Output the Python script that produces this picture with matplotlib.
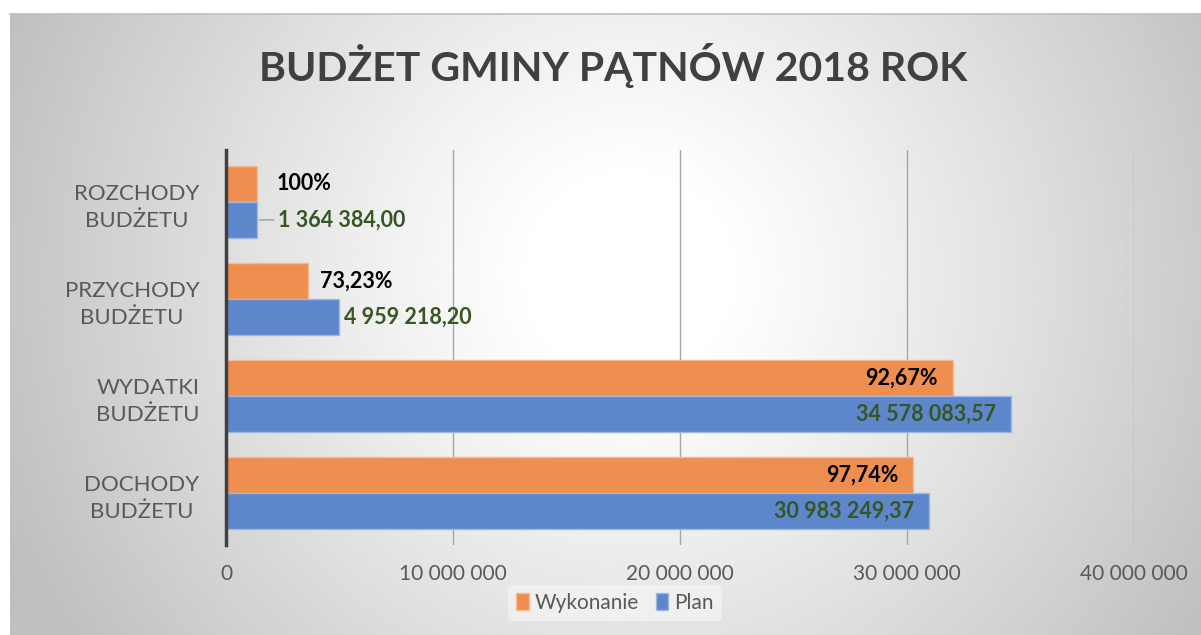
import numpy as np
import matplotlib
matplotlib.use("Agg")
import matplotlib.pyplot as plt
from matplotlib.lines import Line2D

# ---- data ----
categories = ["DOCHODY\nBUDŻETU", "WYDATKI\nBUDŻETU", "PRZYCHODY\nBUDŻETU", "ROZCHODY\nBUDŻETU"]
plan = [30983249.37, 34578083.57, 4959218.20, 1364384.00]
wykonanie_pct = [97.74, 92.67, 73.23, 100.0]
wykonanie = [p * w / 100 for p, w in zip(plan, wykonanie_pct)]
plan_labels = ["30 983 249,37", "34 578 083,57", "4 959 218,20", "1 364 384,00"]
pct_labels = ["97,74%", "92,67%", "73,23%", "100%"]
xticks = [0, 10000000, 20000000, 30000000, 40000000]
xtick_labels = ["0", "10 000 000", "20 000 000", "30 000 000", "40 000 000"]
title = "BUDŻET GMINY PĄTNÓW 2018 ROK"

# ---- style ----
plt.rcParams['font.family'] = ['Lato', 'DejaVu Sans']
W, H = 1201, 635
fig = plt.figure(figsize=(W / 100, H / 100), dpi=100)
fig.patch.set_facecolor('white')

# background radial gradient chart area
bx0, by0 = 10 / W, 0.0
bw, bh = 1 - bx0, (H - 14) / H
bg = fig.add_axes([bx0, by0, bw, bh], zorder=0)
ny, nx = 300, 600
yy, xx = np.mgrid[0:1:ny * 1j, 0:1:nx * 1j]
r = np.sqrt(((xx - 0.52) * 1.9) ** 2 + ((yy - 0.42) * 1.0) ** 2)
v = 1 - 0.25 * np.clip((r - 0.15) / 0.92, 0, 1) ** 1.1
bg.imshow(v, cmap='gray', vmin=0, vmax=1, aspect='auto', extent=[0, 1, 1, 0],
          interpolation='bilinear')
bg.set_xlim(0, 1); bg.set_ylim(1, 0)
bg.axis('off')
fig.add_artist(Line2D([bx0, 1], [bh, bh], color='#bfbfbf', lw=1.2, transform=fig.transFigure))

ax = fig.add_axes([226 / W, 90 / H, 908 / W, 395 / H], zorder=1)
ax.set_facecolor('none')

orange = '#EE8E4F'
blue = '#5D86CB'
y = np.arange(len(categories))
h = 0.37
ax.barh(y + h / 2, wykonanie, height=h, color=orange, edgecolor='#F6B990', linewidth=1.0,
        zorder=2, label='Wykonanie')
ax.barh(y - h / 2, plan, height=h, color=blue, edgecolor='#9DB6E2', linewidth=1.0,
        zorder=2, label='Plan')

ax.set_xlim(0, 40000000)
ax.set_ylim(-0.535, 3.535)
ax.set_xticks(xticks)
ax.set_xticklabels(xtick_labels, color='#595959', fontsize=15)
ax.set_yticks(y)
ax.set_yticklabels(categories, color='#595959', fontsize=16, multialignment='center',
                   linespacing=1.45)
ax.tick_params(axis='x', length=0, pad=14)
ax.tick_params(axis='y', length=0, pad=19)
ax.grid(axis='x', color='#a6a6a6', lw=1.0, zorder=3)
ax.grid(axis='y', visible=False)
for s in ['top', 'right', 'bottom']:
    ax.spines[s].set_visible(False)
ax.spines['left'].set_color('#404040')
ax.spines['left'].set_linewidth(2.5)
ax.spines['left'].set_zorder(4)

# data labels
inside = [True, True, False, False]
pct_off = [-11, -11, 8, 14]
plan_off = [-11, -11, 4, 15]
for i in range(len(categories)):
    ha = 'right' if inside[i] else 'left'
    ax.annotate(pct_labels[i], (wykonanie[i], y[i] + h / 2), xytext=(pct_off[i], 0),
                textcoords='offset points', ha=ha, va='center',
                fontsize=15.5, fontweight='bold', color='black', zorder=5)
    ax.annotate(plan_labels[i], (plan[i], y[i] - h / 2), xytext=(plan_off[i], 0),
                textcoords='offset points', ha=ha, va='center',
                fontsize=15.5, fontweight='bold', color='#375623', zorder=5)
# leader line for the short Rozchody plan bar
ax.annotate('', xy=(plan[3], y[3] - h / 2), xytext=(12, 0), textcoords='offset points',
            xycoords='data',
            arrowprops=dict(arrowstyle='-', color='#a6a6a6', lw=1.2, shrinkA=0, shrinkB=2))

handles, labels = ax.get_legend_handles_labels()
leg = fig.legend(handles, labels, loc='center', bbox_to_anchor=(615 / W, 1 - 603 / H),
                 ncol=2, frameon=True, fontsize=15, handlelength=0.6, handleheight=0.9,
                 handletextpad=0.3, columnspacing=0.8, borderpad=0.4)
leg.get_frame().set_facecolor('#f7f7f7')
leg.get_frame().set_edgecolor('none')
leg.get_frame().set_alpha(0.6)
for t in leg.get_texts():
    t.set_color('#595959')

fig.text(613 / W, 1 - 66 / H, title, ha='center', va='center', fontsize=29.5,
         fontweight='bold', color='#404040')

fig.savefig('out.png', dpi=100)
